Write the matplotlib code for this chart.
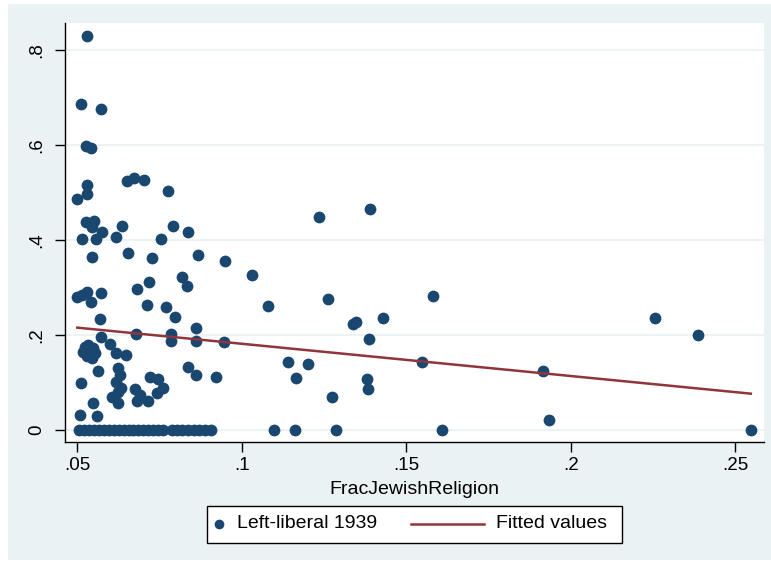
import numpy as np
import matplotlib.pyplot as plt
from matplotlib.patches import Rectangle
from matplotlib.lines import Line2D

plt.rcParams['font.family'] = ['Liberation Sans', 'DejaVu Sans']

# Left-liberal vote share 1939 against Jewish fraction
frac_nonzero = [0.0529, 0.0511, 0.0572, 0.0526, 0.0542, 0.0653, 0.0673, 0.0704, 0.0777, 0.0531,
                0.0529, 0.0501, 0.0526, 0.0552, 0.0545, 0.0575, 0.0636, 0.0514, 0.0557, 0.0620,
                0.0754, 0.0793, 0.0838, 0.0545, 0.0656, 0.0727, 0.0869, 0.0950, 0.1031, 0.0820,
                0.0833, 0.0501, 0.0516, 0.0529, 0.0542, 0.0572, 0.0683, 0.0720, 0.0712, 0.0770,
                0.0798, 0.0861, 0.0570, 0.0572, 0.0679, 0.0785, 0.0785, 0.0861, 0.0947, 0.0524,
                0.0534, 0.0550, 0.0519, 0.0539, 0.0531, 0.0555, 0.0545, 0.0600, 0.0620, 0.0649,
                0.0565, 0.0511, 0.0625, 0.0631, 0.0620, 0.0633, 0.0625, 0.0605, 0.0625, 0.0676,
                0.0691, 0.0683, 0.0717, 0.0722, 0.0747, 0.0760, 0.0742, 0.0836, 0.0861, 0.0921,
                0.0550, 0.0509, 0.0560, 0.1235, 0.1390, 0.1079, 0.1262, 0.1582, 0.1339, 0.1348,
                0.1430, 0.1387, 0.1140, 0.1203, 0.1165, 0.1547, 0.1382, 0.1385, 0.1276, 0.1916,
                0.1935, 0.2256, 0.2386]
left_nonzero = [0.829, 0.686, 0.675, 0.599, 0.593, 0.524, 0.530, 0.526, 0.503, 0.516,
                0.496, 0.486, 0.4385, 0.4406, 0.428, 0.4175, 0.4295, 0.4015, 0.4015, 0.407,
                0.4015, 0.4295, 0.4175, 0.365, 0.373, 0.3625, 0.368, 0.3565, 0.326, 0.323,
                0.304, 0.279, 0.284, 0.291, 0.270, 0.289, 0.296, 0.312, 0.263, 0.259,
                0.2385, 0.2155, 0.233, 0.196, 0.2015, 0.2015, 0.188, 0.188, 0.186, 0.175,
                0.179, 0.172, 0.165, 0.161, 0.155, 0.163, 0.151, 0.181, 0.163, 0.158,
                0.125, 0.098, 0.130, 0.116, 0.102, 0.088, 0.081, 0.069, 0.057, 0.086,
                0.074, 0.062, 0.062, 0.112, 0.107, 0.088, 0.077, 0.132, 0.116, 0.111,
                0.056, 0.032, 0.029, 0.449, 0.466, 0.261, 0.275, 0.283, 0.223, 0.228,
                0.2365, 0.191, 0.144, 0.139, 0.110, 0.144, 0.107, 0.086, 0.0695, 0.124,
                0.021, 0.236, 0.200]
# places with no left-liberal vote
frac_zero = [0.0506, 0.0521, 0.0536, 0.0552, 0.0567, 0.0582, 0.0597, 0.0612, 0.0628, 0.0643,
             0.0658, 0.0670, 0.0685, 0.0700, 0.0716, 0.0731, 0.0746, 0.0761, 0.0789, 0.0804,
             0.0819, 0.0837, 0.0855, 0.0871, 0.0889, 0.0907, 0.1098, 0.1161, 0.1286, 0.1608,
             0.2547]

fit_x = [0.0501, 0.2547]
fit_y = [0.2155, 0.0765]

xticks = [0.05, 0.10, 0.15, 0.20, 0.25]
xticklabels = ['.05', '.1', '.15', '.2', '.25']
yticks = [0, 0.2, 0.4, 0.6, 0.8]
yticklabels = ['0', '.2', '.4', '.6', '.8']

navy = '#1a476f'
maroon = '#90353b'
bg = '#eaf2f3'

W, H = 771, 565
fig = plt.figure(figsize=(W / 100, H / 100), dpi=100, facecolor='white')
fig.patches.append(Rectangle((8 / W, 5 / H), 1 - 8 / W, 1 - 9 / H, transform=fig.transFigure,
                             fc=bg, ec='none', zorder=-10))

ax = fig.add_axes([65 / W, 1 - 442 / H, (764 - 65) / W, (442 - 23) / H])
ax.set_facecolor('white')

x = np.array(frac_nonzero + frac_zero)
y = np.array(left_nonzero + [0.0] * len(frac_zero))
ax.scatter(x, y, s=72, color=navy, linewidths=0, zorder=3)
ax.plot(fit_x, fit_y, color=maroon, lw=1.8, zorder=4)

ax.set_xlim(0.04636, 0.2587)
ax.set_ylim(-0.0253, 0.857)
ax.set_xticks(xticks, xticklabels)
ax.set_yticks(yticks, yticklabels)
ax.tick_params(axis='x', length=7, width=1, pad=4, labelsize=13.5)
ax.tick_params(axis='y', length=7, width=1, pad=7, labelsize=13.5, labelrotation=90)
for lab in ax.get_yticklabels():
    lab.set_va('center')
ax.grid(axis='y', color=bg, lw=1.3, zorder=0)
ax.set_axisbelow(True)
for side in ['top', 'right']:
    ax.spines[side].set_visible(False)
for side in ['left', 'bottom']:
    ax.spines[side].set_linewidth(1)
ax.set_xlabel('FracJewishReligion', fontsize=14, labelpad=5)

# legend below the plot, drawn by hand to match Stata spacing
ly = 1 - 524 / H
fig.patches.append(Rectangle((207 / W, 1 - 543 / H), 415 / W, 37 / H, transform=fig.transFigure,
                             fc='white', ec='black', lw=1, zorder=1))
fig.add_artist(Line2D([219 / W], [ly], marker='o', ms=7, color=navy, mec='none', zorder=2))
fig.text(237 / W, ly, 'Left-liberal 1939', fontsize=14, va='center', zorder=2)
fig.add_artist(Line2D([411 / W, 484 / W], [ly, ly], color=maroon, lw=1.8, zorder=2))
fig.text(496 / W, ly, 'Fitted values', fontsize=14, va='center', zorder=2)

fig.savefig('out.png', dpi=100)
